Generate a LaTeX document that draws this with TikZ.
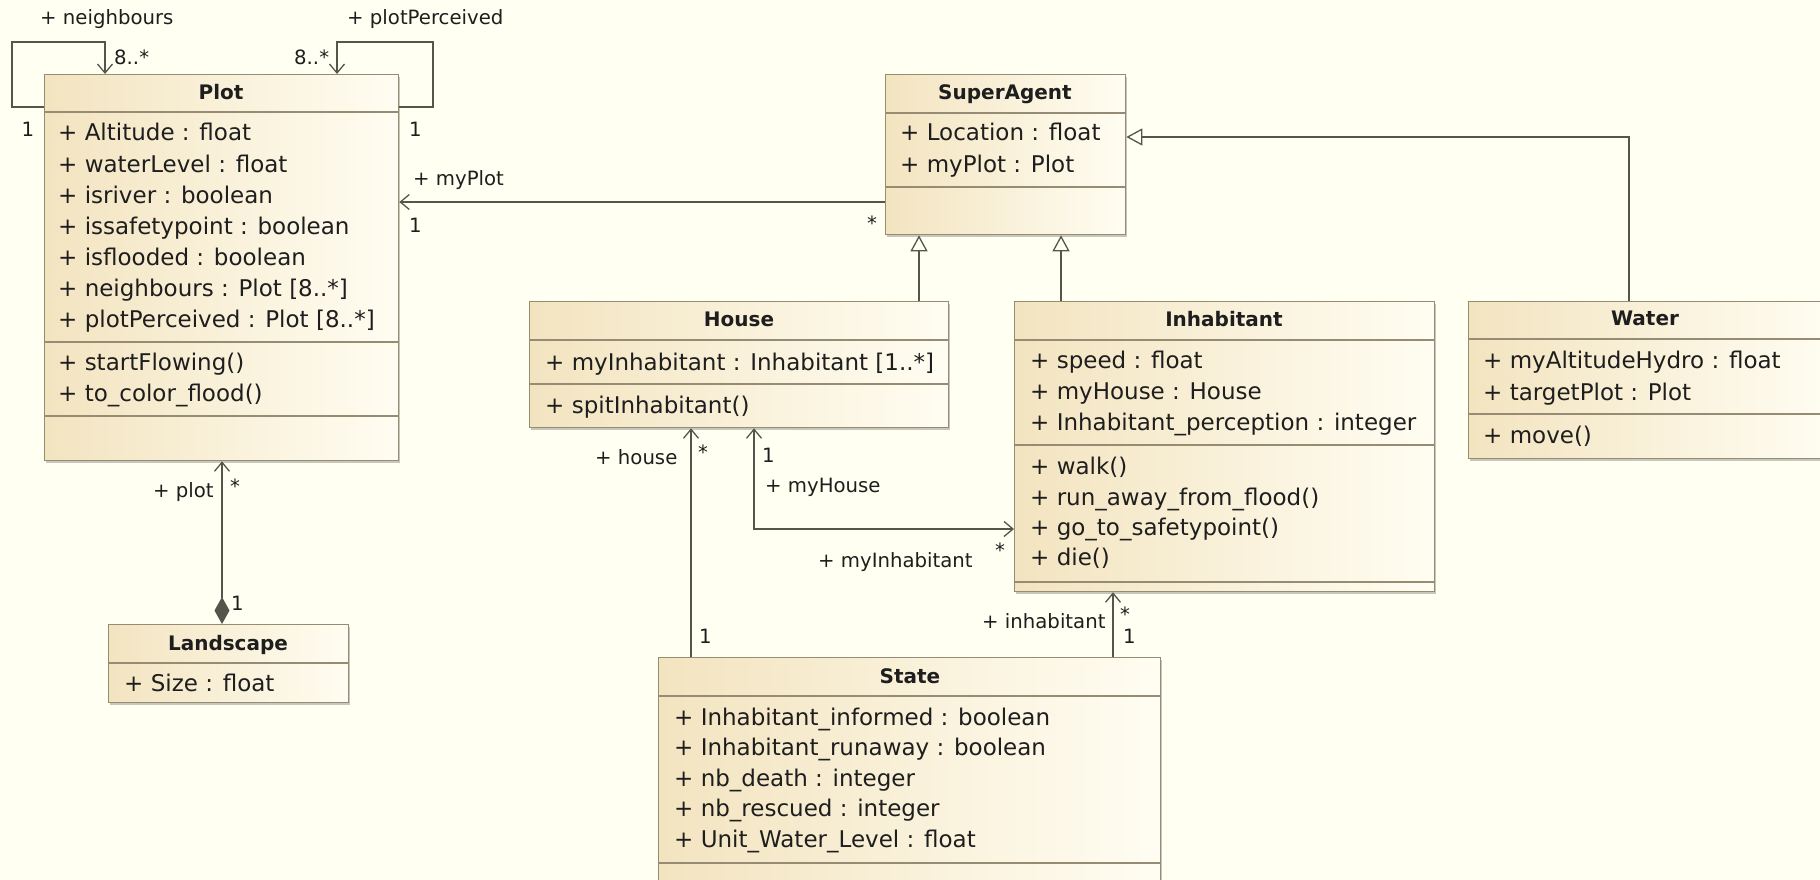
\documentclass[tikz,border=0pt]{standalone}
\usepackage{fontspec}
\setmainfont{DejaVu Sans}
\newfontfamily\dvfam{DejaVu Sans}
\usetikzlibrary{arrows.meta,shadows}
\newcommand\attrfont{\dvfam\fontsize{23}{27}\selectfont}
\newcommand\lblfont{\dvfam\fontsize{19.7}{23}\selectfont}
\newcommand\ttlfont{\dvfam\bfseries\fontsize{20}{24}\selectfont}
\definecolor{bgc}{RGB}{255,255,242}
\definecolor{boxL}{RGB}{243,228,192}
\definecolor{boxR}{RGB}{255,253,242}
\definecolor{boxborder}{RGB}{150,140,115}
\definecolor{linec}{RGB}{85,85,75}
\definecolor{txt}{RGB}{30,30,30}
\tikzset{
  classbox/.style={draw=boxborder, line width=1.3pt, left color=boxL, right color=boxR,
    inner sep=0pt, anchor=north west,
    drop shadow={shadow xshift=1.5pt, shadow yshift=-2.5pt, fill=black, opacity=0.22}},
  sepline/.style={draw=boxborder, line width=1.3pt},
  attr/.style={anchor=base west, inner sep=0pt, font=\attrfont, text=txt},
  ttl/.style={anchor=base, inner sep=0pt, font=\ttlfont, text=txt},
  lbl/.style={anchor=base west, inner sep=0pt, font=\lblfont, text=txt},
  lblc/.style={anchor=base, inner sep=0pt, font=\lblfont, text=txt},
  conn/.style={draw=linec, line width=1.4pt},
  >={Straight Barb[length=9pt,width=15pt,line width=1.3pt]},
  gen/.style={-{Triangle[open,length=16pt,width=17pt,line width=1.3pt]}},
  comp/.style={{Straight Barb[length=9pt,width=15pt,line width=1.3pt]}-{Diamond[length=27pt,width=15pt]}}
}
\begin{document}
\begin{tikzpicture}[x=1pt,y=-1pt]
\clip (0,0) rectangle (1820,880);
\fill[bgc] (0,0) rectangle (1820,880);

% ---------- Plot ----------
\node[classbox, minimum width=354pt, minimum height=386pt] (plot) at (44,74) {};
\draw[sepline] (plot.west |- 0,112) -- (plot.east |- 0,112);
\draw[sepline] (plot.west |- 0,342) -- (plot.east |- 0,342);
\draw[sepline] (plot.west |- 0,416) -- (plot.east |- 0,416);
\node[ttl] (plott) at (221,100) {Plot};
\foreach \t [count=\i] in {+ Altitude : float, + waterLevel : float, + isriver : boolean,
  + issafetypoint : boolean, + isflooded : boolean, + neighbours : Plot [8..*],
  + plotPerceived : Plot [8..*]}
  \node[attr] (pa\i) at (58,110+31*\i) {\t};
\node[attr] (po1) at (58,370) {+ startFlowing()};
\node[attr] (po2) at (58,401) {+ to\_color\_flood()};

% ---------- Landscape ----------
\node[classbox, minimum width=240pt, minimum height=78pt] (landscape) at (108,624) {};
\draw[sepline] (landscape.west |- 0,663) -- (landscape.east |- 0,663);
\node[ttl] (landt) at (228,650) {Landscape};
\node[attr] (la1) at (124,691) {+ Size : float};

% ---------- SuperAgent ----------
\node[classbox, minimum width=240pt, minimum height=160pt] (sa) at (885,74) {};
\draw[sepline] (sa.west |- 0,113) -- (sa.east |- 0,113);
\draw[sepline] (sa.west |- 0,187) -- (sa.east |- 0,187);
\node[ttl] (sat) at (1005,100) {SuperAgent};
\node[attr] (saa1) at (900,141) {+ Location : float};
\node[attr] (saa2) at (900,172) {+ myPlot : Plot};

% ---------- House ----------
\node[classbox, minimum width=419pt, minimum height=126pt] (house) at (529,301) {};
\draw[sepline] (house.west |- 0,340) -- (house.east |- 0,340);
\draw[sepline] (house.west |- 0,384) -- (house.east |- 0,384);
\node[ttl] (houset) at (739,326) {House};
\node[attr] (ha1) at (545,370) {+ myInhabitant : Inhabitant [1..*]};
\node[attr] (ho1) at (545,413) {+ spitInhabitant()};

% ---------- Inhabitant ----------
\node[classbox, minimum width=420pt, minimum height=290pt] (inh) at (1014,301) {};
\draw[sepline] (inh.west |- 0,340) -- (inh.east |- 0,340);
\draw[sepline] (inh.west |- 0,445) -- (inh.east |- 0,445);
\draw[sepline] (inh.west |- 0,582) -- (inh.east |- 0,582);
\node[ttl] (inht) at (1224,326) {Inhabitant};
\node[attr] (ia1) at (1030,368) {+ speed : float};
\node[attr] (ia2) at (1030,399) {+ myHouse : House};
\node[attr] (ia3) at (1030,430) {+ Inhabitant\_perception : integer};
\node[attr] (io1) at (1030,474) {+ walk()};
\node[attr] (io2) at (1030,505) {+ run\_away\_from\_flood()};
\node[attr] (io3) at (1030,535) {+ go\_to\_safetypoint()};
\node[attr] (io4) at (1030,565) {+ die()};

% ---------- Water ----------
\node[classbox, minimum width=362pt, minimum height=157pt] (water) at (1468,301) {};
\draw[sepline] (water.west |- 0,339) -- (water.east |- 0,339);
\draw[sepline] (water.west |- 0,414) -- (water.east |- 0,414);
\node[ttl] (watert) at (1645,325) {Water};
\node[attr] (wa1) at (1483,368) {+ myAltitudeHydro : float};
\node[attr] (wa2) at (1483,400) {+ targetPlot : Plot};
\node[attr] (wo1) at (1483,443) {+ move()};

% ---------- State ----------
\node[classbox, minimum width=502pt, minimum height=250pt] (state) at (658,657) {};
\draw[sepline] (state.west |- 0,696) -- (state.east |- 0,696);
\draw[sepline] (state.west |- 0,863) -- (state.east |- 0,863);
\node[ttl] (statet) at (910,683) {State};
\node[attr] (sta1) at (674,725) {+ Inhabitant\_informed : boolean};
\node[attr] (sta2) at (674,755) {+ Inhabitant\_runaway : boolean};
\node[attr] (sta3) at (674,786) {+ nb\_death : integer};
\node[attr] (sta4) at (674,816) {+ nb\_rescued : integer};
\node[attr] (sta5) at (674,847) {+ Unit\_Water\_Level : float};

% ---------- Connectors ----------
\draw[conn,->] (plot.west |- 0,107) -- (12,107) -- (12,42) -- (105,42) -- (plot.north -| 105,0);
\draw[conn,->] (plot.east |- 0,107) -- (433,107) -- (433,42) -- (337,42) -- (plot.north -| 337,0);
\draw[conn,->] (sa.west |- 0,202) -- (plot.east |- 0,202);
\draw[conn,comp] (plot.south -| 222,0) -- (landscape.north -| 222,0);
\draw[conn,gen] (house.north -| 919,0) -- (sa.south -| 919,0);
\draw[conn,gen] (inh.north -| 1061,0) -- (sa.south -| 1061,0);
\draw[conn,gen] (water.north -| 1629,0) |- (sa.east |- 0,137);
\draw[conn,->] (state.north -| 691,0) -- (house.south -| 691,0);
\draw[conn,<->] (house.south -| 754,0) |- (inh.west |- 0,529);
\draw[conn,->] (state.north -| 1113,0) -- (inh.south -| 1113,0);

% ---------- Labels ----------
\node[lbl] (l1) at (40,25) {+ neighbours};
\node[lbl] (l2) at (114,65) {8..*};
\node[lbl] (l3) at (347,25) {+ plotPerceived};
\node[lbl] (l4) at (294,65) {8..*};
\node[lblc] (l5) at (28,137) {1};
\node[lbl] (l6) at (409,137) {1};
\node[lbl] (l7) at (413,185) {+ myPlot};
\node[lbl] (l8) at (409,232) {1};
\node[lblc] (l9) at (872,230) {*};
\node[lbl] (l10) at (153,497) {+ plot};
\node[lblc] (l11) at (235,493) {*};
\node[lbl] (l12) at (231,610) {1};
\node[lbl] (l13) at (595,464) {+ house};
\node[lblc] (l14) at (703,459) {*};
\node[lbl] (l15) at (762,462) {1};
\node[lbl] (l16) at (765,492) {+ myHouse};
\node[lblc] (l17) at (1000,557) {*};
\node[lbl] (l18) at (818,567) {+ myInhabitant};
\node[lbl] (l19) at (982,628) {+ inhabitant};
\node[lblc] (l20) at (1125,621) {*};
\node[lbl] (l21) at (1123,643) {1};
\node[lbl] (l22) at (699,643) {1};
\end{tikzpicture}
\end{document}
